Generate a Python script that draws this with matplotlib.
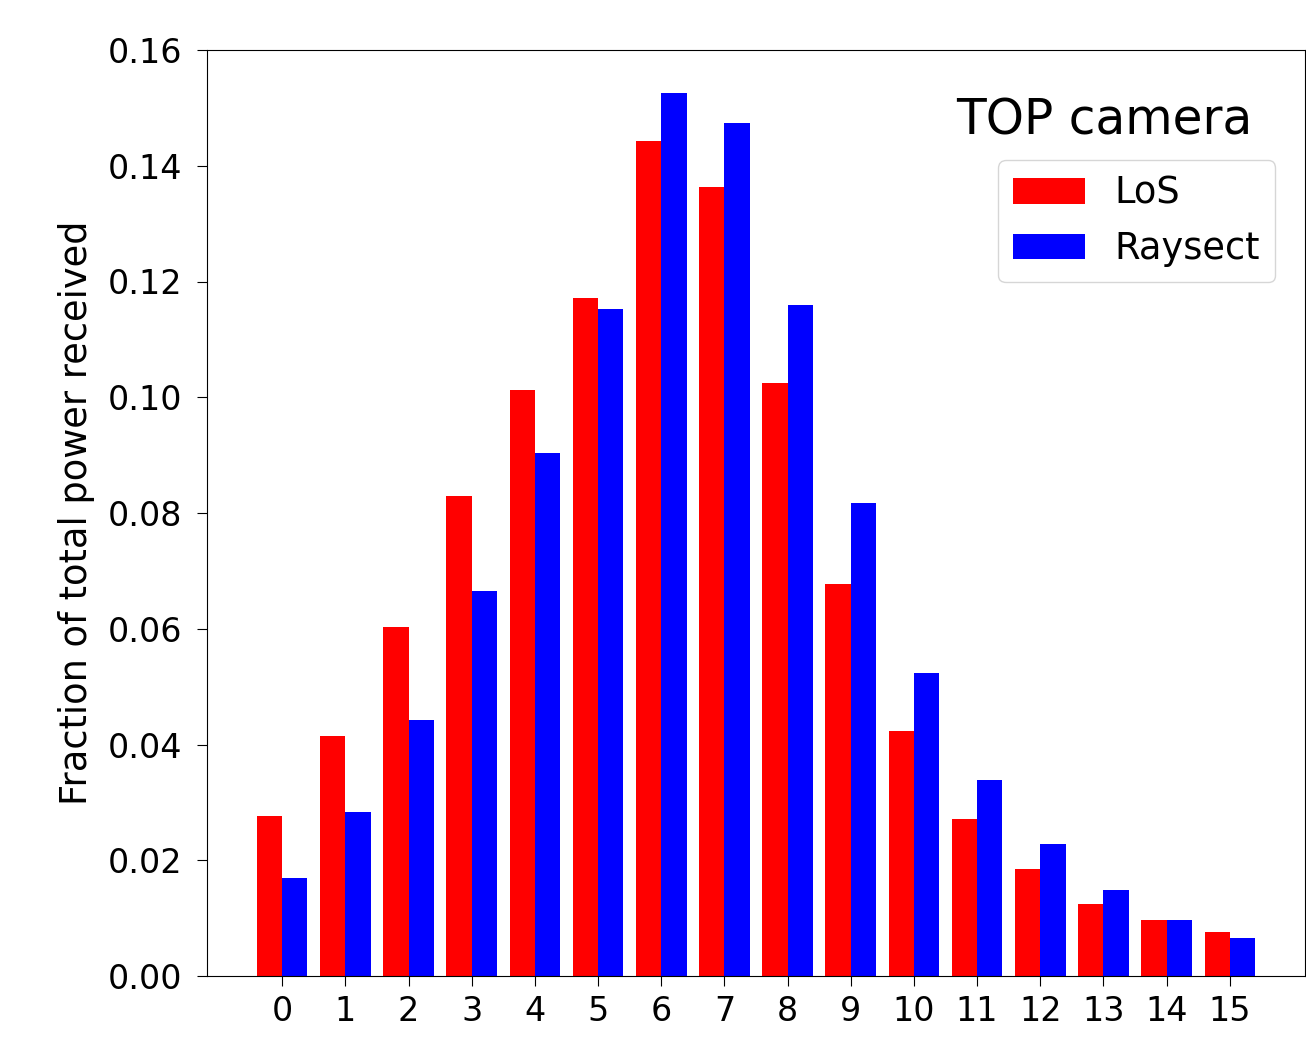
import matplotlib
matplotlib.use("Agg")
import matplotlib.pyplot as plt
import numpy as np

categories = list(range(16))
los = [0.0277, 0.0415, 0.0603, 0.0829, 0.1013, 0.1171, 0.1443, 0.1363,
       0.1025, 0.0677, 0.0423, 0.0271, 0.0185, 0.0124, 0.0097, 0.0076]
raysect = [0.0169, 0.0283, 0.0442, 0.0665, 0.0904, 0.1152, 0.1526, 0.1474,
           0.1159, 0.0817, 0.0524, 0.0339, 0.0228, 0.0149, 0.0097, 0.0066]
yticks = [0.00, 0.02, 0.04, 0.06, 0.08, 0.10, 0.12, 0.14, 0.16]

fig = plt.figure(figsize=(13.06, 10.37), dpi=100)
ax = fig.add_axes([207/1306, (1037-976)/1037, (1305-207)/1306, (976-50)/1037])
x = np.array(categories)
ax.bar(x, los, width=-0.4, align='edge', color='red', label='LoS')
ax.bar(x, raysect, width=0.4, align='edge', color='blue', label='Raysect')
ax.set_xticks(x)
ax.set_xticklabels([str(c) for c in categories])
ax.set_yticks(yticks)
ax.set_yticklabels([f"{v:.2f}" for v in yticks])
ax.set_ylim(0, 0.16)
ax.tick_params(labelsize=24, length=7)
ax.tick_params(axis='y', pad=11)
ax.tick_params(axis='x', pad=7)
ax.set_ylabel("Fraction of total power received", fontsize=26.5, labelpad=9)
ax.text(0.952, 0.924, "TOP camera", transform=ax.transAxes, fontsize=35,
        ha='right', va='center')
ax.legend(loc='upper right', bbox_to_anchor=(0.9727, 0.881), borderaxespad=0,
          fontsize=26.5, handlelength=1.96, handleheight=0.7)
fig.savefig("out.png", dpi=100)
